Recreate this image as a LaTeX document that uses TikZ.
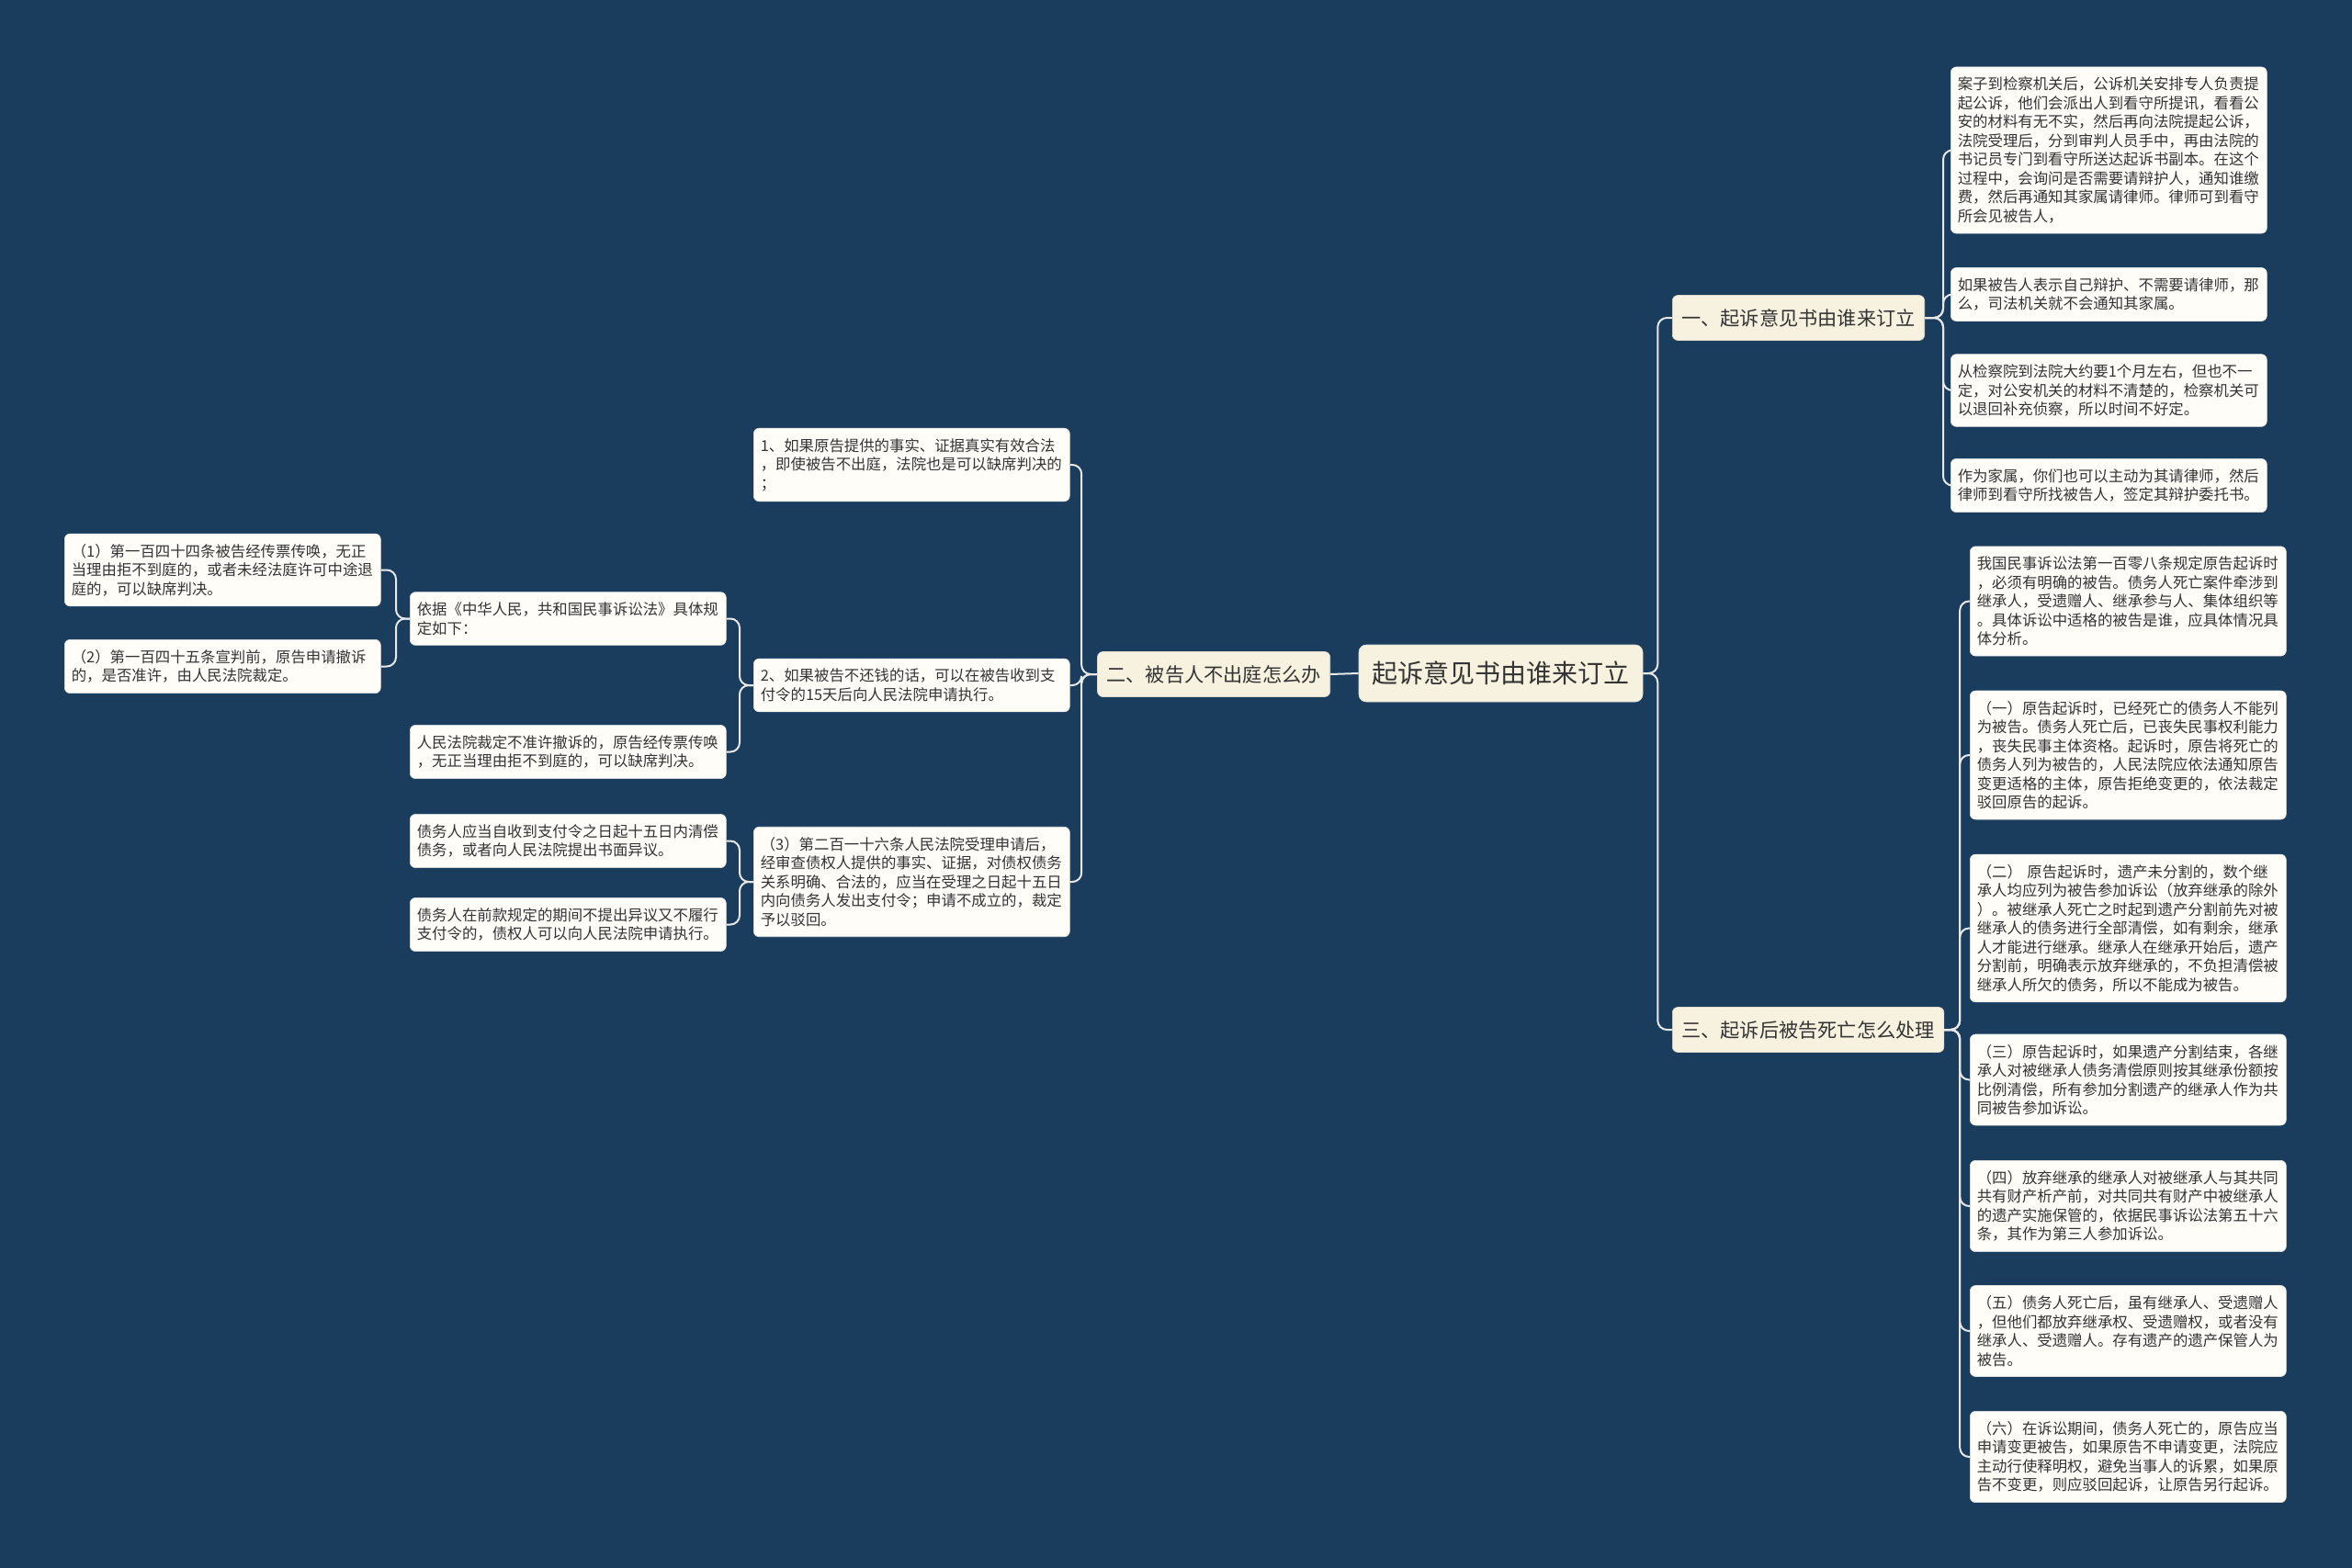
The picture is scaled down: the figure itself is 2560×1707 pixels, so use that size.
\documentclass[tikz,border=0pt]{standalone}
\usepackage{fontspec}
\setmainfont{Noto Sans CJK SC}
\definecolor{bg}{RGB}{26,61,94}
\definecolor{leaffill}{RGB}{254,253,248}
\definecolor{mainfill}{RGB}{247,242,223}
\definecolor{connc}{RGB}{232,232,232}
\definecolor{txt}{RGB}{51,51,51}
\begin{document}
\begin{tikzpicture}[x=0.5pt,y=-0.5pt,
  leaf/.style={fill=leaffill, draw=leaffill!80!gray, line width=0.3pt, rounded corners=3pt, text width=164.5pt, align=left, inner xsep=3.75pt, inner ysep=5.5pt, font=\fontsize{8.2}{10.25}\selectfont, text=txt, anchor=west},
  branch/.style={fill=mainfill, draw=mainfill!80!gray, line width=0.3pt, rounded corners=3pt, inner xsep=5pt, inner ysep=0pt, minimum height=24.5pt, font=\fontsize{10.6}{13}\selectfont, text=txt},
  rootbox/.style={fill=mainfill, draw=mainfill!80!gray, line width=0.3pt, rounded corners=4pt, minimum width=154.5pt, minimum height=31pt, inner sep=0pt, font=\fontsize{14}{16}\selectfont, text=txt},
  conn/.style={draw=connc, line width=1pt, rounded corners=5pt}]
\fill[bg] (0,0) rectangle (2560,1707);
\useasboundingbox (0,0) rectangle (2560,1707);

\node[rootbox] (root) at (1633.5,733) {起诉意见书由谁来订立};
\node[branch, anchor=west] (b1) at (1820,346) {一、起诉意见书由谁来订立};
\node[branch, anchor=west] (b3) at (1820,1121) {三、起诉后被告死亡怎么处理};
\node[branch, anchor=east] (b2) at (1448,734) {二、被告人不出庭怎么办};

% branch 1 leaves
\node[leaf] (l1) at (2123,163.5) {案子到检察机关后，公诉机关安排专人负责提\\起公诉，他们会派出人到看守所提讯，看看公\\安的材料有无不实，然后再向法院提起公诉，\\法院受理后，分到审判人员手中，再由法院的\\书记员专门到看守所送达起诉书副本。在这个\\过程中，会询问是否需要请辩护人，通知谁缴\\费，然后再通知其家属请律师。律师可到看守\\所会见被告人，};
\node[leaf] (l2) at (2123,320.5) {如果被告人表示自己辩护、不需要请律师，那\\么，司法机关就不会通知其家属。};
\node[leaf] (l3) at (2123,425) {从检察院到法院大约要1个月左右，但也不一\\定，对公安机关的材料不清楚的，检察机关可\\以退回补充侦察，所以时间不好定。};
\node[leaf] (l4) at (2123,528.5) {作为家属，你们也可以主动为其请律师，然后\\律师到看守所找被告人，签定其辩护委托书。};

% branch 3 leaves
\node[leaf] (r1) at (2144,654.5) {我国民事诉讼法第一百零八条规定原告起诉时\\，必须有明确的被告。债务人死亡案件牵涉到\\继承人，受遗赠人、继承参与人、集体组织等\\。具体诉讼中适格的被告是谁，应具体情况具\\体分析。};
\node[leaf] (r2) at (2144,822) {（一）原告起诉时，已经死亡的债务人不能列\\为被告。债务人死亡后，已丧失民事权利能力\\，丧失民事主体资格。起诉时，原告将死亡的\\债务人列为被告的，人民法院应依法通知原告\\变更适格的主体，原告拒绝变更的，依法裁定\\驳回原告的起诉。};
\node[leaf] (r3) at (2144,1010.5) {（二） 原告起诉时，遗产未分割的，数个继\\承人均应列为被告参加诉讼（放弃继承的除外\\）。被继承人死亡之时起到遗产分割前先对被\\继承人的债务进行全部清偿，如有剩余，继承\\人才能进行继承。继承人在继承开始后，遗产\\分割前，明确表示放弃继承的，不负担清偿被\\继承人所欠的债务，所以不能成为被告。};
\node[leaf] (r4) at (2144,1175.5) {（三）原告起诉时，如果遗产分割结束，各继\\承人对被继承人债务清偿原则按其继承份额按\\比例清偿，所有参加分割遗产的继承人作为共\\同被告参加诉讼。};
\node[leaf] (r5) at (2144,1313) {（四）放弃继承的继承人对被继承人与其共同\\共有财产析产前，对共同共有财产中被继承人\\的遗产实施保管的，依据民事诉讼法第五十六\\条，其作为第三人参加诉讼。};
\node[leaf] (r6) at (2144,1449) {（五）债务人死亡后，虽有继承人、受遗赠人\\，但他们都放弃继承权、受遗赠权，或者没有\\继承人、受遗赠人。存有遗产的遗产保管人为\\被告。};
\node[leaf] (r7) at (2144,1586) {（六）在诉讼期间，债务人死亡的，原告应当\\申请变更被告，如果原告不申请变更，法院应\\主动行使释明权，避免当事人的诉累，如果原\\告不变更，则应驳回起诉，让原告另行起诉。};

% branch 2 children
\node[leaf] (c1) at (820,506) {1、如果原告提供的事实、证据真实有效合法\\，即使被告不出庭，法院也是可以缺席判决的\\；};
\node[leaf] (c2) at (820,746) {2、如果被告不还钱的话，可以在被告收到支\\付令的15天后向人民法院申请执行。};
\node[leaf] (c3) at (820,960) {（3）第二百一十六条人民法院受理申请后，\\经审查债权人提供的事实、证据，对债权债务\\关系明确、合法的，应当在受理之日起十五日\\内向债务人发出支付令；申请不成立的，裁定\\予以驳回。};

\node[leaf] (d1) at (446,673.5) {依据《中华人民，共和国民事诉讼法》具体规\\定如下：};
\node[leaf] (d2) at (446,818.5) {人民法院裁定不准许撤诉的，原告经传票传唤\\，无正当理由拒不到庭的，可以缺席判决。};
\node[leaf] (e1) at (446,915.5) {债务人应当自收到支付令之日起十五日内清偿\\债务，或者向人民法院提出书面异议。};
\node[leaf] (e2) at (446,1006.5) {债务人在前款规定的期间不提出异议又不履行\\支付令的，债权人可以向人民法院申请执行。};

\node[leaf] (f1) at (70,620.5) {（1）第一百四十四条被告经传票传唤，无正\\当理由拒不到庭的，或者未经法庭许可中途退\\庭的，可以缺席判决。};
\node[leaf] (f2) at (70,725.5) {（2）第一百四十五条宣判前，原告申请撤诉\\的，是否准许，由人民法院裁定。};

% connectors
\foreach \b in {b1,b3} \draw[conn] (root.east) -- ++(16,0) |- (\b.west);
\draw[conn] (root.west) -- (b2.east);
\foreach \l in {l1,l2,l3,l4} \draw[conn] (b1.east) -- ++(20,0) |- (\l.west);
\foreach \r in {r1,r2,r3,r4,r5,r6,r7} \draw[conn] (b3.east) -- ++(17,0) |- (\r.west);
\foreach \c in {c1,c2,c3} \draw[conn] (b2.west) -- ++(-17,0) |- (\c.east);
\foreach \d in {d1,d2} \draw[conn] (c2.west) -- ++(-15,0) |- (\d.east);
\foreach \e in {e1,e2} \draw[conn] (c3.west) -- ++(-15,0) |- (\e.east);
\foreach \f in {f1,f2} \draw[conn] (d1.west) -- ++(-15,0) |- (\f.east);
\end{tikzpicture}
\end{document}
